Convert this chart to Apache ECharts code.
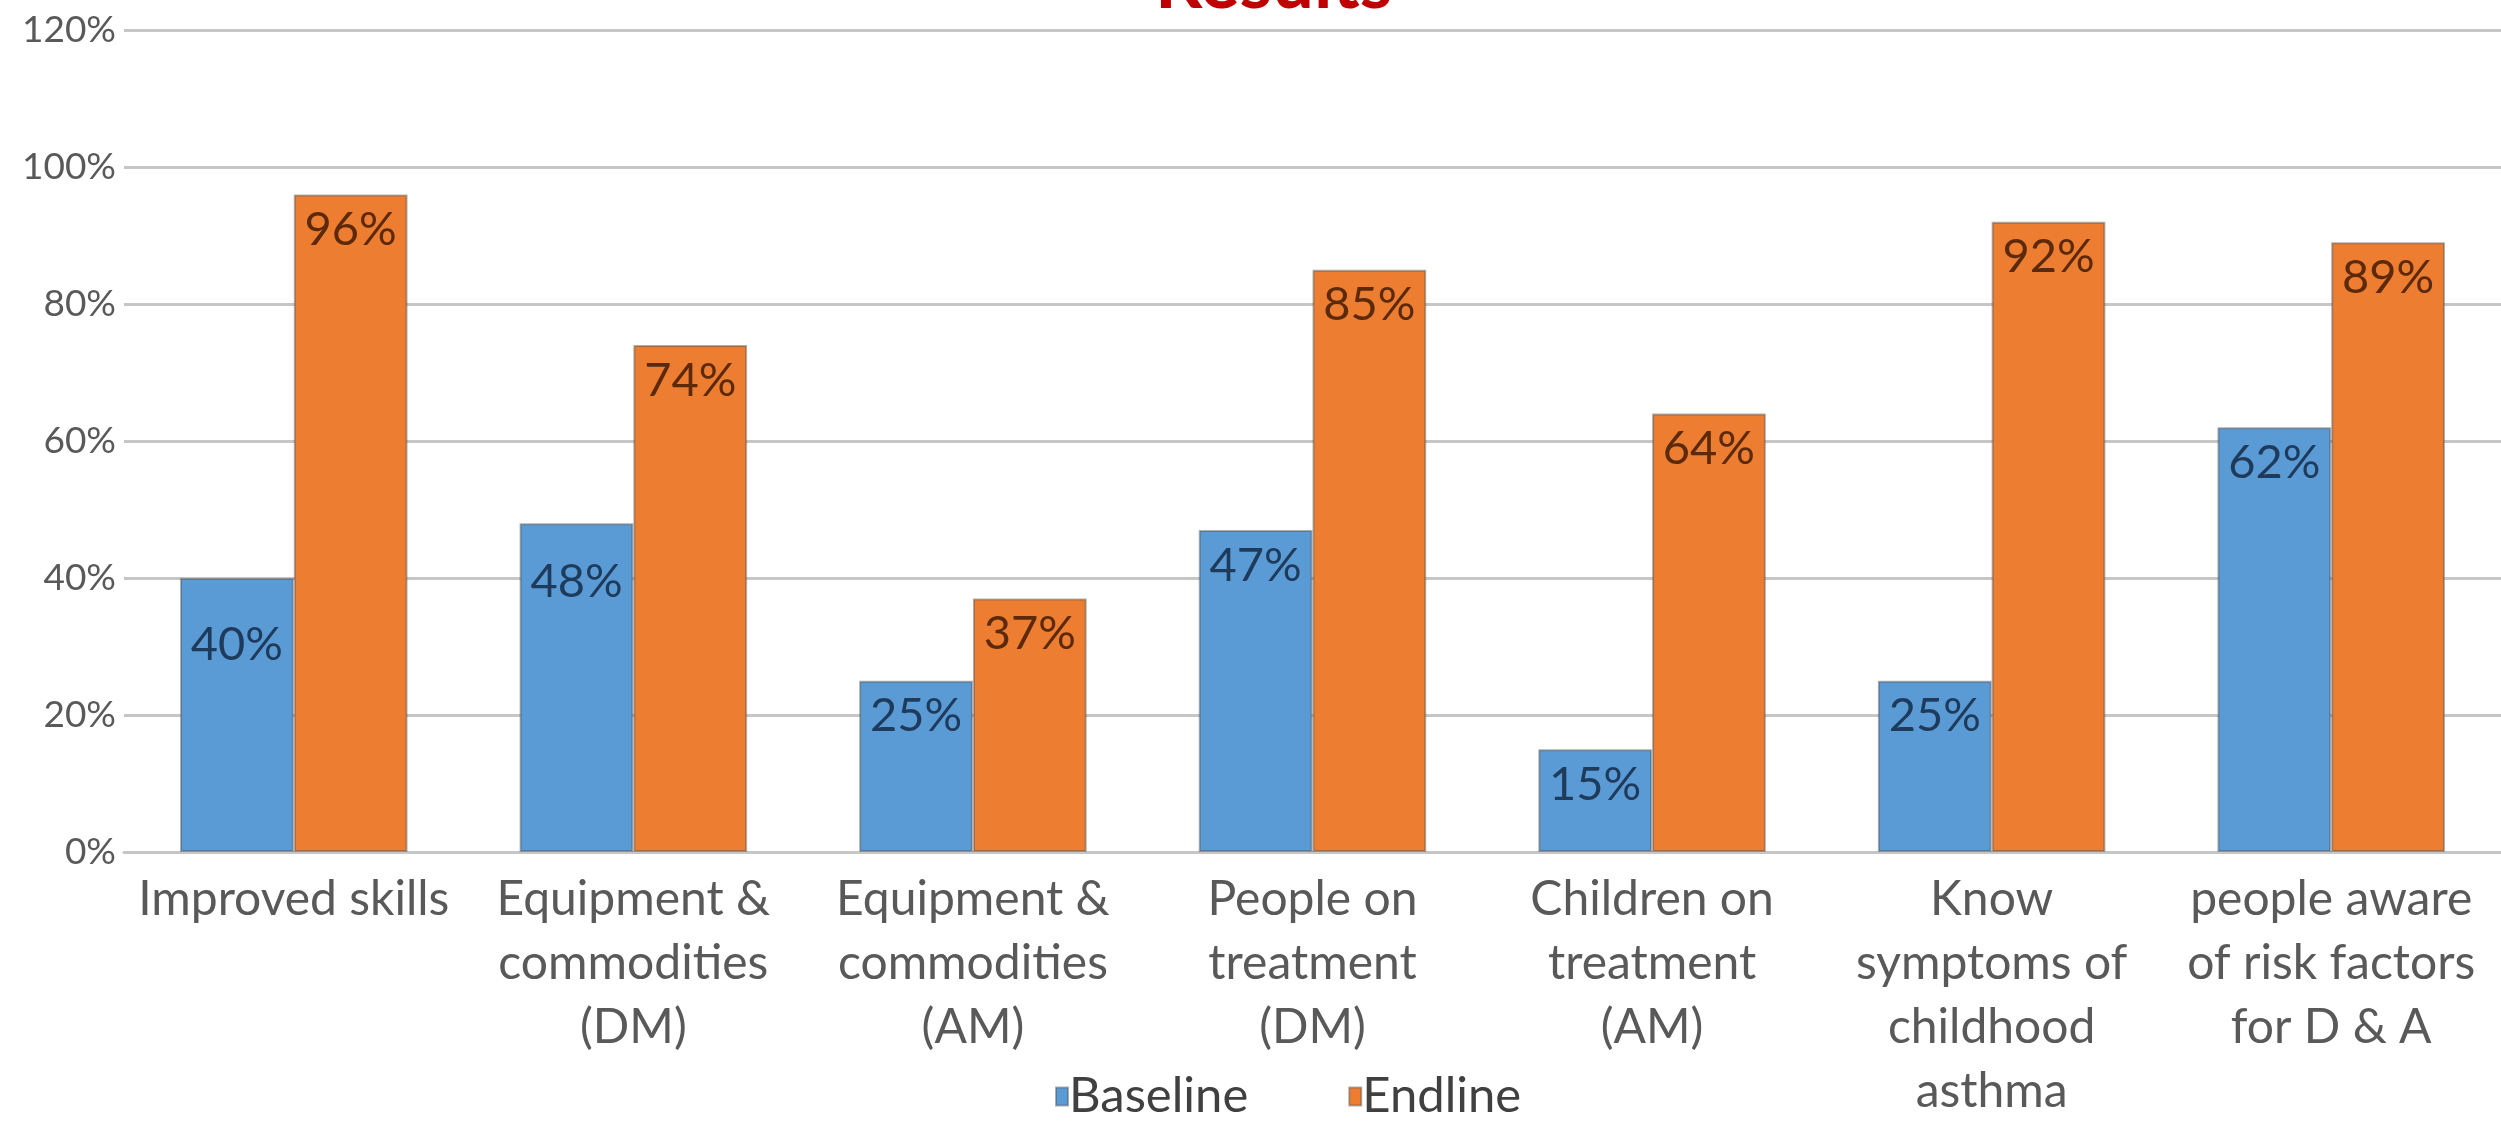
<!DOCTYPE html>
<html>
<head>
<meta charset="utf-8">
<script src="https://cdn.jsdelivr.net/npm/echarts@6/dist/echarts.min.js"></script>
<style>
  html, body { margin: 0; padding: 0; background: #fff; }
  #chart { width: 2501px; height: 1128px; }
</style>
</head>
<body>
<div id="chart"></div>
<script>
// categories as wrapped in the picture
const categories = [
  'Improved skills',
  'Equipment &\ncommodities\n(DM)',
  'Equipment &\ncommodities\n(AM)',
  'People on\ntreatment\n(DM)',
  'Children on\ntreatment\n(AM)',
  'Know\nsymptoms of\nchildhood\nasthma',
  'people aware\nof risk factors\nfor D & A'
];
const baseline = [40, 48, 25, 47, 15, 25, 62];
const endline = [96, 74, 37, 85, 64, 92, 89];
const yTicks = [0, 20, 40, 60, 80, 100, 120];

// a couple of baseline labels sit lower in the picture
const baselineLabelShift = [31, 23, 0, 0, 0, 0, 0];

const chart = echarts.init(document.getElementById('chart'));

const labelStyle = (color) => ({
  show: true,
  position: 'insideTop',
  distance: 12,
  fontFamily: 'Lato',
  fontSize: 47,
  color: color,
  formatter: '{c}%'
});

const option = {
  animation: false,
  backgroundColor: '#ffffff',
  title: {
    text: 'Results',
    left: 1150,
    top: -58,
    textStyle: {
      fontFamily: 'Lato',
      fontWeight: 'bold',
      fontSize: 74,
      color: '#c00000'
    }
  },
  legend: {
    data: ['Baseline', 'Endline'],
    left: 1050,
    bottom: 2,
    icon: 'rect',
    itemWidth: 12,
    itemHeight: 18,
    itemGap: 100,
    textStyle: {
      fontFamily: 'Lato',
      fontSize: 49,
      color: '#404040',
      padding: [0, 0, 0, -4]
    }
  },
  grid: {
    left: 124,
    right: -6,
    top: 30,
    bottom: 276
  },
  xAxis: {
    type: 'category',
    data: categories,
    axisLine: { lineStyle: { color: '#c6c6c6', width: 3 } },
    axisTick: { show: false },
    axisLabel: {
      interval: 0,
      margin: 16,
      fontFamily: 'Lato',
      fontSize: 48,
      lineHeight: 64,
      color: '#595959'
    }
  },
  yAxis: {
    type: 'value',
    min: yTicks[0],
    max: yTicks[yTicks.length - 1],
    interval: 20,
    axisLine: { show: false },
    axisTick: { show: false },
    axisLabel: {
      margin: 8,
      fontFamily: 'Lato',
      fontSize: 37,
      color: '#595959',
      formatter: '{value}%'
    },
    splitLine: { lineStyle: { color: '#c6c6c6', width: 3 } }
  },
  series: [
    {
      name: 'Baseline',
      type: 'bar',
      barGap: '0%',
      barCategoryGap: '33%',
      itemStyle: { color: '#5b9bd5', borderColor: 'rgba(80,80,80,0.45)', borderWidth: 2 },
      label: labelStyle('#1f3b5c'),
      data: baseline.map((v, i) => ({
        value: v,
        label: { offset: [0, baselineLabelShift[i]] }
      }))
    },
    {
      name: 'Endline',
      type: 'bar',
      itemStyle: { color: '#ed7d31', borderColor: 'rgba(80,80,80,0.45)', borderWidth: 2 },
      label: labelStyle('#5c2a0a'),
      data: endline
    }
  ]
};

chart.setOption(option);
</script>
</body>
</html>
